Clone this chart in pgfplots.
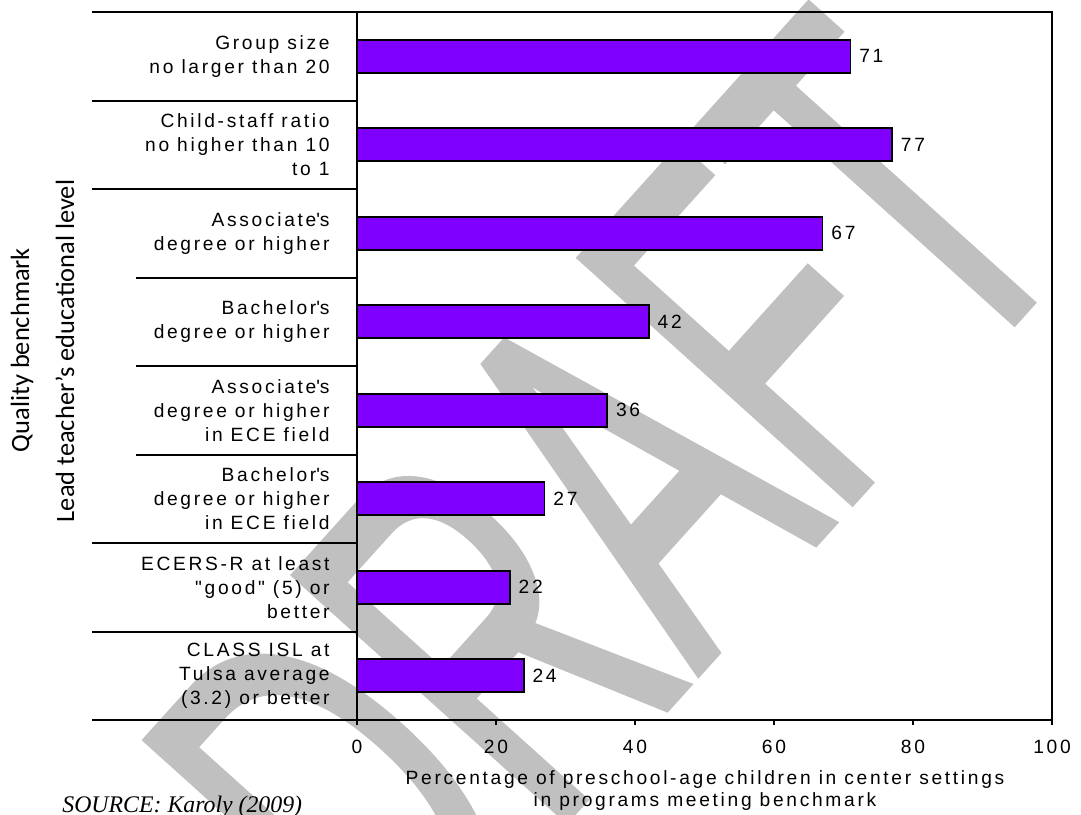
\documentclass[border=0pt]{standalone}
\usepackage{pgfplots}
\pgfplotsset{compat=1.18}
\usepackage{fontspec}
\setmainfont{Liberation Sans}
\newfontfamily\labfam{Liberation Sans}[LetterSpace=14]
\newfontfamily\calfam{Carlito}
\newfontfamily\tmsfam{Liberation Serif}
\newfontfamily\wmfam{Liberation Sans}[FakeBold=1.5]
\newcommand{\lab}{\labfam\fontsize{9.6}{12}\selectfont}
\definecolor{barpurple}{RGB}{128,0,255}
\definecolor{wmgray}{RGB}{192,192,192}
\begin{document}
\begin{tikzpicture}
% watermark behind the chart
\node[anchor=base west, rotate=48, xscale=0.58, text=wmgray, inner sep=0pt] at (200pt,-95pt)
  {\wmfam\fontsize{265}{265}\selectfont DRAFT};
\begin{axis}[
  at={(178.5pt,47pt)}, anchor=south west,
  width=347.5pt, height=354pt, scale only axis,
  xbar, bar width=16.5pt,
  xmin=0, xmax=100, ymin=-0.5, ymax=7.5, y dir=reverse,
  enlarge y limits=false,
  xtick={0,20,40,60,80,100},
  xticklabels={0,20,40,60,80,100},
  xticklabel style={font=\lab, anchor=base, inner sep=0pt, yshift=-14.25pt},
  ytick={0,1,2,3,4,5,6,7},
  yticklabels={
    {Group size\\no larger than 20},
    {Child-staff ratio\\no higher than 10\\to 1},
    {Associate\textquotesingle s\\degree or higher},
    {Bachelor\textquotesingle s\\degree or higher},
    {Associate\textquotesingle s\\degree or higher\\in ECE field},
    {Bachelor\textquotesingle s\\degree or higher\\in ECE field},
    {ECERS-R at least\\"good" (5) or\\better},
    {CLASS ISL at\\Tulsa average\\(3.2) or better}},
  yticklabel style={align=right, font=\lab, inner sep=0pt, xshift=-11pt},
  ytick style={draw=none},
  tick pos=left,
  tick align=outside,
  major tick length=2.5pt,
  xtick style={line width=1pt, black},
  axis line style={line width=1pt, black},
  clip=false,
  /pgf/number format/assume math mode=true,
  nodes near coords,
  every node near coord/.append style={font=\lab, anchor=west, inner sep=0pt, xshift=4pt, black},
]
\addplot[fill=barpurple, draw=black, line width=0.8pt] coordinates {
  (71,0) (77,1) (67,2) (42,3) (36,4) (27,5) (22,6) (24,7)
};
% group separator lines
\draw[line width=1pt] (axis cs:0,-0.5) -- ++(-132.5pt,0pt);
\draw[line width=1pt] (axis cs:0,0.5) -- ++(-132.5pt,0pt);
\draw[line width=1pt] (axis cs:0,1.5) -- ++(-132.5pt,0pt);
\draw[line width=1pt] (axis cs:0,2.5) -- ++(-110.5pt,0pt);
\draw[line width=1pt] (axis cs:0,3.5) -- ++(-110.5pt,0pt);
\draw[line width=1pt] (axis cs:0,4.5) -- ++(-110.5pt,0pt);
\draw[line width=1pt] (axis cs:0,5.5) -- ++(-132.5pt,0pt);
\draw[line width=1pt] (axis cs:0,6.5) -- ++(-132.5pt,0pt);
\draw[line width=1pt] (axis cs:0,7.5) -- ++(-132.5pt,0pt);
\end{axis}
\node[rotate=90, inner sep=0pt, font=\calfam\fontsize{13.2}{15}\selectfont] at (11pt,232pt) {Quality benchmark};
\node[rotate=90, inner sep=0pt, font=\calfam\fontsize{13.2}{15}\selectfont] at (32.5pt,231.5pt) {Lead teacher’s educational level};
\node[anchor=base, inner sep=0pt, font=\lab] at (352.5pt,14.75pt) {Percentage of preschool-age children in center settings};
\node[anchor=base, inner sep=0pt, font=\lab] at (352.5pt,3.75pt) {in programs meeting benchmark};
\node[anchor=base west, inner sep=0pt, font=\tmsfam\itshape\fontsize{11.9}{14}\selectfont] at (31pt,1pt) {SOURCE: Karoly (2009)};
\pgfresetboundingbox
\path[use as bounding box] (0pt,0pt) rectangle (540.5pt,407pt);
\end{tikzpicture}
\end{document}
